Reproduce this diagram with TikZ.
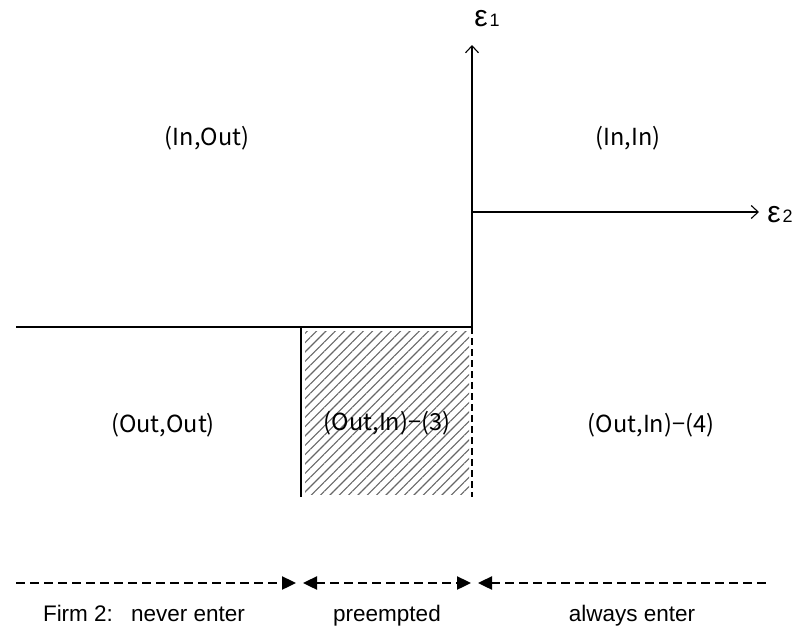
\documentclass[tikz,border=0pt]{standalone}
\usepackage{fontspec}
\setmainfont{Liberation Sans}
\newfontfamily\jpfont{Noto Sans CJK JP}
\usetikzlibrary{arrows.meta,patterns.meta}
\tikzset{
  axis/.style={line width=1.1pt,-{Straight Barb[length=7pt,width=13pt,line width=1.1pt]}},
  thinline/.style={line width=1.1pt},
  vdash/.style={line width=2pt,dash pattern=on 7pt off 4pt},
  bdash/.style={line width=2.4pt,dash pattern=on 9pt off 5pt},
  region/.style={font=\jpfont\fontsize{23.5}{23.5}\selectfont,anchor=base,inner sep=0pt},
  bottomlbl/.style={font=\fontsize{22.5}{22.5}\selectfont,anchor=base,inner sep=0pt},
  eps/.style={inner sep=0pt,anchor=base}
}
\begin{document}
\begin{tikzpicture}[x=1pt,y=-1pt]
\useasboundingbox (0,0) rectangle (801,629);
% key points
\coordinate (O) at (472,327);
\coordinate (Lft) at (16,327);
\coordinate (Ax) at (472,212);
\coordinate (Ytop) at (472,45);
\coordinate (Xend) at (759,212);
\coordinate (Ptop) at (301,327);
\coordinate (Pbot) at (301,497);
\coordinate (Qbot) at (472,497);
% hatch
\fill[pattern={Lines[angle=45,distance=6.6pt,line width=1.1pt]},pattern color=black!60]
  (305,331) rectangle (469,494);
% lines
\draw[thinline] (Lft) -- (O);
\draw[axis] (O) -- (Ytop);
\draw[axis] (Ax) -- (Xend);
\draw[thinline] (Ptop) -- (Pbot);
\draw[vdash] (O) -- (Qbot);
% axis labels
\node[eps] (e1) at (481,27) {\fontsize{30}{30}\selectfont ε};
\node[eps,anchor=base west] (e1s) at (e1.base east) {\hspace{1.5pt}\fontsize{18}{18}\selectfont 1};
\node[eps] (e2) at (774,222) {\fontsize{30}{30}\selectfont ε};
\node[eps,anchor=base west] (e2s) at (e2.base east) {\hspace{1.5pt}\fontsize{18}{18}\selectfont 2};
% region labels
\node[region] (r1) at (207,145) {(In,Out)};
\node[region] (r2) at (628,145) {(In,In)};
\node[region] (r3) at (163,432) {(Out,Out)};
\node[region] (r4) at (387,430) {(Out,In)−(3)};
\node[region] (r5) at (651,432) {(Out,In)−(4)};
% bottom arrows
\coordinate (b0) at (16,583);
\coordinate (b1) at (296,583);
\coordinate (b2) at (303,583);
\coordinate (b3) at (471,583);
\coordinate (b4) at (478,583);
\coordinate (b5) at (768,583);
\draw[bdash,-{Triangle[length=14pt,width=13pt]}] (b0) -- (b1);
\draw[bdash,{Triangle[length=14pt,width=13pt]}-{Triangle[length=14pt,width=13pt]}] (b2) -- (b3);
\draw[bdash,{Triangle[length=14pt,width=13pt]}-] (b4) -- (b5);
% bottom labels
\node[bottomlbl] (f) at (78,621) {Firm 2:};
\node[bottomlbl] (n) at (188,621) {never enter};
\node[bottomlbl] (p) at (387,621) {preempted};
\node[bottomlbl] (a) at (632,621) {always enter};
\end{tikzpicture}
\end{document}
